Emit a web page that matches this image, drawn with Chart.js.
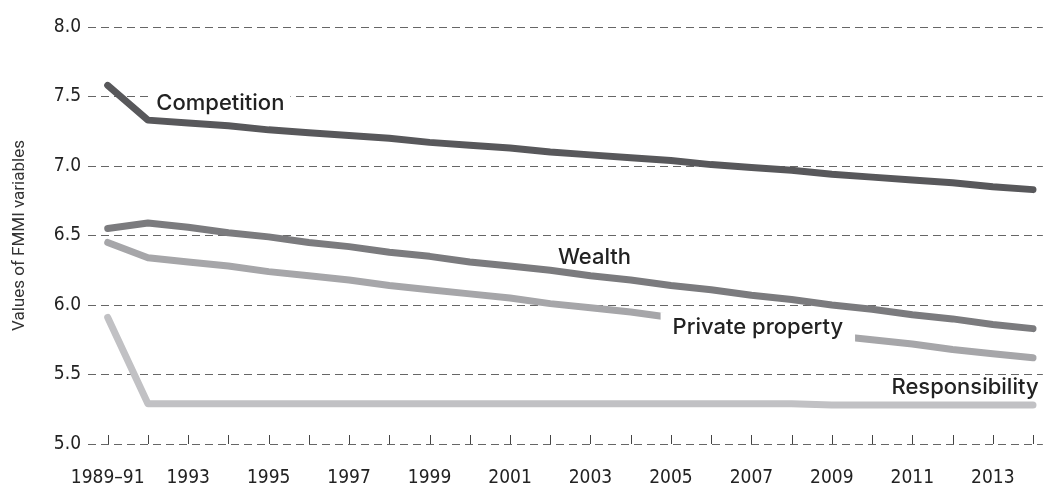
<!DOCTYPE html>
<html>
<head>
<meta charset="utf-8">
<script src="https://cdn.jsdelivr.net/npm/chart.js@4/dist/chart.umd.min.js"></script>
<style>
  html, body { margin: 0; padding: 0; background: #fff; }
  #wrap { width: 1056px; height: 486px; position: relative; }
</style>
</head>
<body>
<div id="wrap"><canvas id="c" width="1056" height="486"></canvas></div>
<script>
// ---- data ----
const categories = ["1989–91","1992","1993","1994","1995","1996","1997","1998","1999","2000","2001","2002","2003","2004","2005","2006","2007","2008","2009","2010","2011","2012","2013","2014"];
const competition = [7.58,7.33,7.31,7.29,7.26,7.24,7.22,7.20,7.17,7.15,7.13,7.10,7.08,7.06,7.04,7.01,6.99,6.97,6.94,6.92,6.90,6.88,6.85,6.83];
const wealth = [6.55,6.59,6.56,6.52,6.49,6.45,6.42,6.38,6.35,6.31,6.28,6.25,6.21,6.18,6.14,6.11,6.07,6.04,6.00,5.97,5.93,5.90,5.86,5.83];
const privateProperty = [6.45,6.34,6.31,6.28,6.24,6.21,6.18,6.14,6.11,6.08,6.05,6.01,5.98,5.95,5.91,5.88,5.85,5.82,5.78,5.75,5.72,5.68,5.65,5.62];
const responsibility = [5.91,5.29,5.29,5.29,5.29,5.29,5.29,5.29,5.29,5.29,5.29,5.29,5.29,5.29,5.29,5.29,5.29,5.29,5.28,5.28,5.28,5.28,5.28,5.28];
const yTicks = [5.0,5.5,6.0,6.5,7.0,7.5,8.0];
const seriesNames = ["Competition","Wealth","Private property","Responsibility"];
const yTitle = "Values of FMMI variables";

// ---- styles / annotation placement (data coordinates) ----
const colors = ["#58585b","#7b7b7e","#a6a6a9","#c1c1c4"];
const labelPlacement = [
  {x: 2.8,  y: 7.45, padX: 6,  padY: 8},
  {x: 12.1, y: 6.34, padX: 6,  padY: 8},
  {x: 16.16,y: 5.84, padX: 12, padY: 15},
  {x: 21.31,y: 5.41, padX: 4,  padY: 8}
];
const narrow = '"Liberation Sans Narrow", "DejaVu Sans Condensed", "Roboto", sans-serif';

const toXY = arr => arr.map((v, i) => ({x: i, y: v}));
const allSeries = [competition, wealth, privateProperty, responsibility];

const datasets = allSeries.map((s, k) => ({
  label: seriesNames[k],
  data: toXY(s),
  borderColor: colors[k],
  backgroundColor: colors[k],
  borderWidth: 7,
  borderCapStyle: 'round',
  borderJoinStyle: 'round',
  pointRadius: 0,
  tension: 0,
  fill: false
}));

const upTicks = {
  id: 'upTicks',
  afterDatasetsDraw(chart) {
    const xs = chart.scales.x, ctx = chart.ctx, bottom = chart.chartArea.bottom;
    ctx.save();
    ctx.strokeStyle = '#444';
    ctx.lineWidth = 1;
    categories.forEach((c, i) => {
      const px = Math.round(xs.getPixelForValue(i)) + 0.5;
      ctx.beginPath();
      ctx.moveTo(px, bottom);
      ctx.lineTo(px, bottom - 9);
      ctx.stroke();
    });
    ctx.restore();
  }
};

const lineLabels = {
  id: 'lineLabels',
  afterDatasetsDraw(chart) {
    const xs = chart.scales.x, ys = chart.scales.y, ctx = chart.ctx;
    ctx.save();
    ctx.font = '500 22px "Inter", "Open Sans", sans-serif';
    ctx.textAlign = 'center';
    ctx.textBaseline = 'middle';
    seriesNames.forEach((name, k) => {
      const p = labelPlacement[k];
      const px = xs.getPixelForValue(p.x), py = ys.getPixelForValue(p.y);
      const w = ctx.measureText(name).width;
      ctx.fillStyle = '#fff';
      ctx.fillRect(px - w / 2 - p.padX, py - p.padY, w + 2 * p.padX, 2 * p.padY);
      ctx.fillStyle = '#222';
      ctx.fillText(name, px, py);
    });
    ctx.restore();
  }
};

new Chart(document.getElementById('c'), {
  type: 'line',
  data: { datasets },
  options: {
    responsive: false,
    animation: false,
    layout: { padding: { top: 27, right: 0, left: 0, bottom: 0 } },
    plugins: { legend: { display: false }, tooltip: { enabled: false } },
    scales: {
      x: {
        type: 'linear',
        min: -0.49,
        max: 23.245,
        afterFit(s) { s.height = 42; },
        grid: { display: false, drawTicks: false },
        border: { display: false },
        ticks: {
          stepSize: 1,
          includeBounds: false,
          autoSkip: false,
          maxRotation: 0,
          padding: 23,
          color: '#222',
          font: { family: narrow, size: 19 },
          callback(v) {
            const i = Math.round(v);
            if (Math.abs(v - i) > 1e-6) return '';
            return (i % 2 === 0 && categories[i]) ? categories[i] : '';
          }
        }
      },
      y: {
        min: yTicks[0],
        max: yTicks[yTicks.length - 1],
        afterFit(s) { s.width = 88; },
        afterBuildTicks(s) { s.ticks = yTicks.map(v => ({value: v})); },
        grid: { color: '#666', lineWidth: 1, drawTicks: false },
        border: { display: false, dash: [8, 5] },
        ticks: {
          padding: 7,
          color: '#222',
          font: { family: narrow, size: 19 },
          callback(v) { return Number(v).toFixed(1); }
        },
        title: {
          display: true,
          text: yTitle,
          color: '#333',
          font: { family: 'Roboto, sans-serif', size: 17 },
          padding: { top: 10, bottom: 0 }
        }
      }
    }
  },
  plugins: [upTicks, lineLabels]
});
</script>
</body>
</html>
